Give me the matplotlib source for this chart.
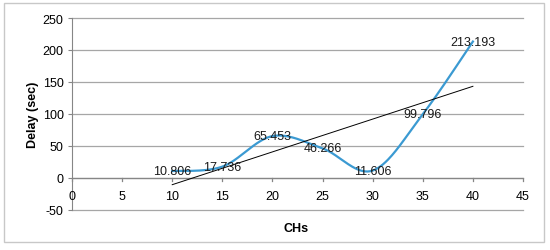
import numpy as np
import matplotlib.pyplot as plt
from matplotlib.patches import Rectangle

plt.rcParams["font.family"] = ["Liberation Sans", "DejaVu Sans"]

# data
chs = [10, 15, 20, 25, 30, 35, 40]
delay = [10.806, 17.736, 65.453, 46.266, 11.606, 99.796, 213.193]
labels = ["10.806", "17.736", "65.453", "46.266", "11.606", "99.796", "213.193"]
x_ticks = [0, 5, 10, 15, 20, 25, 30, 35, 40, 45]
y_ticks = [-50, 0, 50, 100, 150, 200, 250]


def smooth(xs, ys, n=40):
    # Excel-style smoothed line (Catmull-Rom through the points)
    xs = np.asarray(xs, float)
    ys = np.asarray(ys, float)
    px = np.concatenate([[xs[0]], xs, [xs[-1]]])
    py = np.concatenate([[ys[0]], ys, [ys[-1]]])
    outx, outy = [], []
    t = np.linspace(0, 1, n)
    for i in range(1, len(px) - 2):
        p0x, p1x, p2x, p3x = px[i - 1], px[i], px[i + 1], px[i + 2]
        p0y, p1y, p2y, p3y = py[i - 1], py[i], py[i + 1], py[i + 2]
        c1x, c1y = p1x + (p2x - p0x) / 6, p1y + (p2y - p0y) / 6
        c2x, c2y = p2x - (p3x - p1x) / 6, p2y - (p3y - p1y) / 6
        b = lambda a, b_, c, d: ((1 - t) ** 3 * a + 3 * (1 - t) ** 2 * t * b_
                                 + 3 * (1 - t) * t ** 2 * c + t ** 3 * d)
        outx.append(b(p1x, c1x, c2x, p2x))
        outy.append(b(p1y, c1y, c2y, p2y))
    return np.concatenate(outx), np.concatenate(outy)


fig = plt.figure(figsize=(5.5, 2.51), dpi=100)
fig.patches.append(Rectangle((4 / 550, 8 / 251), 540 / 550, 239 / 251,
                             transform=fig.transFigure, fill=False,
                             edgecolor="#c8c8c8", linewidth=1))

ax = fig.add_axes([72 / 550, 40 / 251, 451 / 550, 192 / 251])
ax.set_xlim(0, 45)
ax.set_ylim(-50, 250)
ax.patch.set_alpha(0)

for yv in y_ticks:
    ax.axhline(yv, color="#a6a6a6", linewidth=0.9, zorder=0, clip_on=False)

sx, sy = smooth(chs, delay)
ax.plot(sx, sy, color="#3b9ad2", linewidth=1.6, zorder=2)

# linear trendline
k, b0 = np.polyfit(chs, delay, 1)
tx = np.array([chs[0], chs[-1]])
ax.plot(tx, k * tx + b0, color="black", linewidth=0.7, zorder=3)

for xv, yv, lab in zip(chs, delay, labels):
    ax.text(xv, yv, lab, ha="center", va="center", fontsize=9,
            color="#1a1a1a", zorder=4)

# axes styling, Excel look
for s in ["top", "right", "bottom"]:
    ax.spines[s].set_visible(False)
ax.spines["left"].set_color("#868686")
ax.axhline(0, color="#868686", linewidth=0.9, zorder=1)
ax.set_yticks(y_ticks)
ax.set_yticklabels([str(v) for v in y_ticks])
ax.tick_params(axis="y", length=3, color="#868686", labelsize=9, pad=3)
ax.set_xticks([])
for xv in x_ticks:
    ax.plot([xv, xv], [0, -5], color="#868686", linewidth=0.9,
            clip_on=False, zorder=1)
    ax.text(xv, -28, str(xv), ha="center", va="center", fontsize=9)

ax.set_ylabel("Delay (sec)", fontsize=9, fontweight="bold", labelpad=3)
ax.text(22.4, -78, "CHs", ha="center", va="center", fontsize=9,
        fontweight="bold", clip_on=False)

fig.savefig("out.png", dpi=100)
